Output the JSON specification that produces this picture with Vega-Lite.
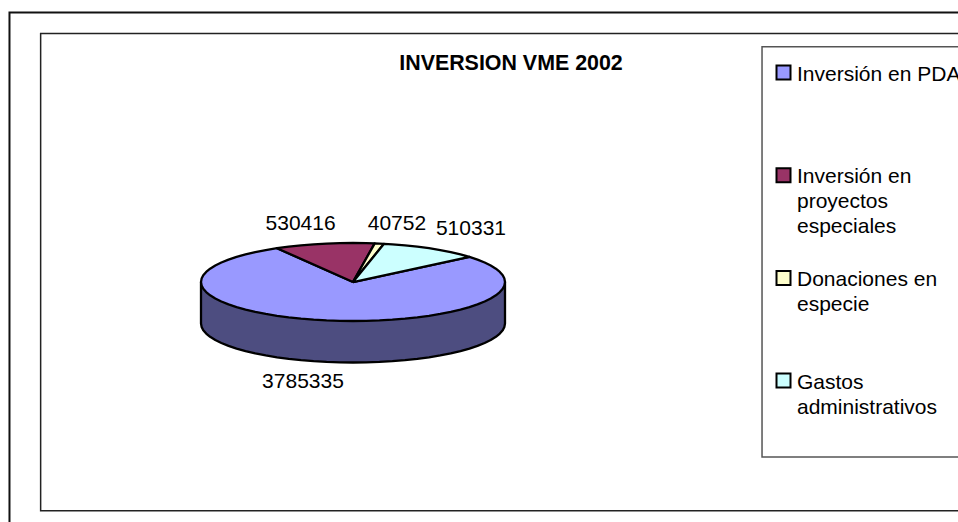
{
"$schema":"https://vega.github.io/schema/vega-lite/v6.json",
"width":958,"height":522,"padding":0,"autosize":{"type":"none"},"background":"white",
"title":{"text":"INVERSION VME 2002","font":"Liberation Sans","fontSize":21.4,"fontWeight":"bold","color":"black","anchor":"middle","frame":"group","dx":32,"offset":-91,"baseline":"alphabetic"},
"config":{"view":{"stroke":null},"axis":{"disable":true}},
"datasets":{
"totals":[{"slice":"Inversión en PDA","value":3785335},{"slice":"Inversión en proyectos especiales","value":530416},{"slice":"Donaciones en especie","value":40752},{"slice":"Gastos administrativos","value":510331}],
"side":[{"o":0,"u":-1,"v":0},{"o":1,"u":-1,"v":-1.064},{"o":2,"u":-0.996,"v":-1.151},{"o":3,"u":-0.985,"v":-1.238},{"o":4,"u":-0.966,"v":-1.323},{"o":5,"u":-0.94,"v":-1.406},{"o":6,"u":-0.906,"v":-1.487},{"o":7,"u":-0.866,"v":-1.564},{"o":8,"u":-0.819,"v":-1.638},{"o":9,"u":-0.766,"v":-1.707},{"o":10,"u":-0.707,"v":-1.771},{"o":11,"u":-0.643,"v":-1.83},{"o":12,"u":-0.574,"v":-1.883},{"o":13,"u":-0.5,"v":-1.93},{"o":14,"u":-0.423,"v":-1.97},{"o":15,"u":-0.342,"v":-2.004},{"o":16,"u":-0.259,"v":-2.03},{"o":17,"u":-0.174,"v":-2.049},{"o":18,"u":-0.087,"v":-2.06},{"o":19,"u":0,"v":-2.064},{"o":20,"u":0.087,"v":-2.06},{"o":21,"u":0.174,"v":-2.049},{"o":22,"u":0.259,"v":-2.03},{"o":23,"u":0.342,"v":-2.004},{"o":24,"u":0.423,"v":-1.97},{"o":25,"u":0.5,"v":-1.93},{"o":26,"u":0.574,"v":-1.883},{"o":27,"u":0.643,"v":-1.83},{"o":28,"u":0.707,"v":-1.771},{"o":29,"u":0.766,"v":-1.707},{"o":30,"u":0.819,"v":-1.638},{"o":31,"u":0.866,"v":-1.564},{"o":32,"u":0.906,"v":-1.487},{"o":33,"u":0.94,"v":-1.406},{"o":34,"u":0.966,"v":-1.323},{"o":35,"u":0.985,"v":-1.238},{"o":36,"u":0.996,"v":-1.151},{"o":37,"u":1,"v":-1.064},{"o":38,"u":1,"v":0},{"o":39,"u":-1,"v":0}],
"top":[
{"slice":"Inversión en PDA","o":0,"u":0,"v":0},
{"slice":"Inversión en PDA","o":1,"u":-0.5,"v":0.866},{"slice":"Inversión en PDA","o":2,"u":-0.574,"v":0.819},{"slice":"Inversión en PDA","o":3,"u":-0.643,"v":0.766},{"slice":"Inversión en PDA","o":4,"u":-0.707,"v":0.707},{"slice":"Inversión en PDA","o":5,"u":-0.766,"v":0.643},{"slice":"Inversión en PDA","o":6,"u":-0.819,"v":0.574},{"slice":"Inversión en PDA","o":7,"u":-0.866,"v":0.5},{"slice":"Inversión en PDA","o":8,"u":-0.906,"v":0.423},{"slice":"Inversión en PDA","o":9,"u":-0.94,"v":0.342},{"slice":"Inversión en PDA","o":10,"u":-0.966,"v":0.259},{"slice":"Inversión en PDA","o":11,"u":-0.985,"v":0.174},{"slice":"Inversión en PDA","o":12,"u":-0.996,"v":0.087},{"slice":"Inversión en PDA","o":13,"u":-1,"v":0},
{"slice":"Inversión en PDA","o":14,"u":-0.996,"v":-0.087},{"slice":"Inversión en PDA","o":15,"u":-0.985,"v":-0.174},{"slice":"Inversión en PDA","o":16,"u":-0.966,"v":-0.259},{"slice":"Inversión en PDA","o":17,"u":-0.94,"v":-0.342},{"slice":"Inversión en PDA","o":18,"u":-0.906,"v":-0.423},{"slice":"Inversión en PDA","o":19,"u":-0.866,"v":-0.5},{"slice":"Inversión en PDA","o":20,"u":-0.819,"v":-0.574},{"slice":"Inversión en PDA","o":21,"u":-0.766,"v":-0.643},{"slice":"Inversión en PDA","o":22,"u":-0.707,"v":-0.707},{"slice":"Inversión en PDA","o":23,"u":-0.643,"v":-0.766},{"slice":"Inversión en PDA","o":24,"u":-0.574,"v":-0.819},{"slice":"Inversión en PDA","o":25,"u":-0.5,"v":-0.866},{"slice":"Inversión en PDA","o":26,"u":-0.423,"v":-0.906},{"slice":"Inversión en PDA","o":27,"u":-0.342,"v":-0.94},{"slice":"Inversión en PDA","o":28,"u":-0.259,"v":-0.966},{"slice":"Inversión en PDA","o":29,"u":-0.174,"v":-0.985},{"slice":"Inversión en PDA","o":30,"u":-0.087,"v":-0.996},{"slice":"Inversión en PDA","o":31,"u":0,"v":-1},
{"slice":"Inversión en PDA","o":32,"u":0.087,"v":-0.996},{"slice":"Inversión en PDA","o":33,"u":0.174,"v":-0.985},{"slice":"Inversión en PDA","o":34,"u":0.259,"v":-0.966},{"slice":"Inversión en PDA","o":35,"u":0.342,"v":-0.94},{"slice":"Inversión en PDA","o":36,"u":0.423,"v":-0.906},{"slice":"Inversión en PDA","o":37,"u":0.5,"v":-0.866},{"slice":"Inversión en PDA","o":38,"u":0.574,"v":-0.819},{"slice":"Inversión en PDA","o":39,"u":0.643,"v":-0.766},{"slice":"Inversión en PDA","o":40,"u":0.707,"v":-0.707},{"slice":"Inversión en PDA","o":41,"u":0.766,"v":-0.643},{"slice":"Inversión en PDA","o":42,"u":0.819,"v":-0.574},{"slice":"Inversión en PDA","o":43,"u":0.866,"v":-0.5},{"slice":"Inversión en PDA","o":44,"u":0.906,"v":-0.423},{"slice":"Inversión en PDA","o":45,"u":0.94,"v":-0.342},{"slice":"Inversión en PDA","o":46,"u":0.966,"v":-0.259},{"slice":"Inversión en PDA","o":47,"u":0.985,"v":-0.174},{"slice":"Inversión en PDA","o":48,"u":0.996,"v":-0.087},{"slice":"Inversión en PDA","o":49,"u":1,"v":0},
{"slice":"Inversión en PDA","o":50,"u":0.996,"v":0.087},{"slice":"Inversión en PDA","o":51,"u":0.985,"v":0.174},{"slice":"Inversión en PDA","o":52,"u":0.966,"v":0.259},{"slice":"Inversión en PDA","o":53,"u":0.94,"v":0.342},{"slice":"Inversión en PDA","o":54,"u":0.906,"v":0.423},{"slice":"Inversión en PDA","o":55,"u":0.866,"v":0.5},{"slice":"Inversión en PDA","o":56,"u":0.819,"v":0.574},{"slice":"Inversión en PDA","o":57,"u":0.766,"v":0.643},{"slice":"Inversión en PDA","o":58,"u":0,"v":0},
{"slice":"Inversión en proyectos especiales","o":0,"u":0,"v":0},{"slice":"Inversión en proyectos especiales","o":1,"u":0.143,"v":0.99},{"slice":"Inversión en proyectos especiales","o":2,"u":0.087,"v":0.996},{"slice":"Inversión en proyectos especiales","o":3,"u":0,"v":1},{"slice":"Inversión en proyectos especiales","o":4,"u":-0.087,"v":0.996},{"slice":"Inversión en proyectos especiales","o":5,"u":-0.174,"v":0.985},{"slice":"Inversión en proyectos especiales","o":6,"u":-0.259,"v":0.966},{"slice":"Inversión en proyectos especiales","o":7,"u":-0.342,"v":0.94},{"slice":"Inversión en proyectos especiales","o":8,"u":-0.423,"v":0.906},{"slice":"Inversión en proyectos especiales","o":9,"u":-0.5,"v":0.866},{"slice":"Inversión en proyectos especiales","o":10,"u":0,"v":0},
{"slice":"Donaciones en especie","o":0,"u":0,"v":0},{"slice":"Donaciones en especie","o":1,"u":0.204,"v":0.979},{"slice":"Donaciones en especie","o":2,"u":0.143,"v":0.99},{"slice":"Donaciones en especie","o":3,"u":0,"v":0},
{"slice":"Gastos administrativos","o":0,"u":0,"v":0},{"slice":"Gastos administrativos","o":1,"u":0.766,"v":0.643},{"slice":"Gastos administrativos","o":2,"u":0.707,"v":0.707},{"slice":"Gastos administrativos","o":3,"u":0.643,"v":0.766},{"slice":"Gastos administrativos","o":4,"u":0.574,"v":0.819},{"slice":"Gastos administrativos","o":5,"u":0.5,"v":0.866},{"slice":"Gastos administrativos","o":6,"u":0.423,"v":0.906},{"slice":"Gastos administrativos","o":7,"u":0.342,"v":0.94},{"slice":"Gastos administrativos","o":8,"u":0.259,"v":0.966},{"slice":"Gastos administrativos","o":9,"u":0.204,"v":0.979},{"slice":"Gastos administrativos","o":10,"u":0,"v":0}
]},
"layer":[
{"data":{"values":[{"box":"outer"}]},"mark":{"type":"rect","fill":"white","stroke":"#111111","strokeWidth":2},
 "encoding":{"x":{"datum":-2.26,"type":"quantitative","scale":{"domain":[-2.3224,3.9803],"nice":false,"zero":false}},"x2":{"datum":4.2},"y":{"datum":6.91,"type":"quantitative","scale":{"domain":[-6.1538,7.2308],"nice":false,"zero":false}},"y2":{"datum":-6.6}}},
{"data":{"values":[{"box":"plot"}]},"mark":{"type":"rect","fill":"white","stroke":"#222222","strokeWidth":1.5},
 "encoding":{"x":{"datum":-2.055,"type":"quantitative","scale":{"domain":[-2.3224,3.9803],"nice":false,"zero":false}},"x2":{"datum":4.2},"y":{"datum":6.372,"type":"quantitative","scale":{"domain":[-6.1538,7.2308],"nice":false,"zero":false}},"y2":{"datum":-5.864}}},
{"data":{"values":[{"box":"legend"}]},"mark":{"type":"rect","fill":"white","stroke":"#555555","strokeWidth":1.5},
 "encoding":{"x":{"datum":2.691,"type":"quantitative","scale":{"domain":[-2.3224,3.9803],"nice":false,"zero":false}},"x2":{"datum":4.2},"y":{"datum":6.033,"type":"quantitative","scale":{"domain":[-6.1538,7.2308],"nice":false,"zero":false}},"y2":{"datum":-4.487}}},
{"data":{"name":"side"},"mark":{"type":"line","fill":"#4D4D80","stroke":"black","strokeWidth":2.3,"strokeJoin":"round"},
 "encoding":{"x":{"field":"u","type":"quantitative","scale":{"domain":[-2.3224,3.9803],"nice":false,"zero":false}},"y":{"field":"v","type":"quantitative","scale":{"domain":[-6.1538,7.2308],"nice":false,"zero":false}},"order":{"field":"o","type":"quantitative"}}},
{"data":{"name":"top"},"mark":{"type":"line","stroke":"black","strokeWidth":2.3,"strokeJoin":"round"},
 "encoding":{"x":{"field":"u","type":"quantitative","scale":{"domain":[-2.3224,3.9803],"nice":false,"zero":false}},"y":{"field":"v","type":"quantitative","scale":{"domain":[-6.1538,7.2308],"nice":false,"zero":false}},"order":{"field":"o","type":"quantitative"},"detail":{"field":"slice"},
  "fill":{"field":"slice","type":"nominal","scale":{"domain":["Inversión en PDA","Inversión en proyectos especiales","Donaciones en especie","Gastos administrativos"],"range":["#9999FF","#993366","#FFFFCC","#CCFFFF"]},
   "legend":{"orient":"none","legendX":773,"legendY":62,"title":null,"padding":0,"symbolType":"square","symbolSize":196,"symbolStrokeWidth":2,"symbolStrokeColor":"black","labelFont":"Liberation Sans","labelFontSize":21,"labelColor":"black","labelLimit":400,"labelOffset":3,"labelBaseline":"alphabetic","rowPadding":28.7,
    "labelExpr":"({'Inversión en PDA':['Inversión en PDA','',''],'Inversión en proyectos especiales':['Inversión en','proyectos','especiales'],'Donaciones en especie':['Donaciones en','especie',''],'Gastos administrativos':['Gastos','administrativos','']})[datum.label]",
    "encoding":{"labels":{"dy":{"value":8},"lineHeight":{"value":25}}}}}}},
{"data":{"name":"totals"},"transform":[{"filter":"datum.value==530416"}],"mark":{"type":"text","font":"Liberation Sans","fontSize":21,"color":"black","baseline":"middle"},
 "encoding":{"x":{"datum":-0.345,"type":"quantitative","scale":{"domain":[-2.3224,3.9803],"nice":false,"zero":false}},"y":{"datum":1.487,"type":"quantitative","scale":{"domain":[-6.1538,7.2308],"nice":false,"zero":false}},"text":{"field":"value","type":"quantitative","format":"d"}}},
{"data":{"name":"totals"},"transform":[{"filter":"datum.value==40752"}],"mark":{"type":"text","font":"Liberation Sans","fontSize":21,"color":"black","baseline":"middle"},
 "encoding":{"x":{"datum":0.289,"type":"quantitative","scale":{"domain":[-2.3224,3.9803],"nice":false,"zero":false}},"y":{"datum":1.487,"type":"quantitative","scale":{"domain":[-6.1538,7.2308],"nice":false,"zero":false}},"text":{"field":"value","type":"quantitative","format":"d"}}},
{"data":{"name":"totals"},"transform":[{"filter":"datum.value==510331"}],"mark":{"type":"text","font":"Liberation Sans","fontSize":21,"color":"black","baseline":"middle"},
 "encoding":{"x":{"datum":0.776,"type":"quantitative","scale":{"domain":[-2.3224,3.9803],"nice":false,"zero":false}},"y":{"datum":1.359,"type":"quantitative","scale":{"domain":[-6.1538,7.2308],"nice":false,"zero":false}},"text":{"field":"value","type":"quantitative","format":"d"}}},
{"data":{"name":"totals"},"transform":[{"filter":"datum.value==3785335"}],"mark":{"type":"text","font":"Liberation Sans","fontSize":21,"color":"black","baseline":"middle"},
 "encoding":{"x":{"datum":-0.329,"type":"quantitative","scale":{"domain":[-2.3224,3.9803],"nice":false,"zero":false}},"y":{"datum":-2.556,"type":"quantitative","scale":{"domain":[-6.1538,7.2308],"nice":false,"zero":false}},"text":{"field":"value","type":"quantitative","format":"d"}}}
]
}
